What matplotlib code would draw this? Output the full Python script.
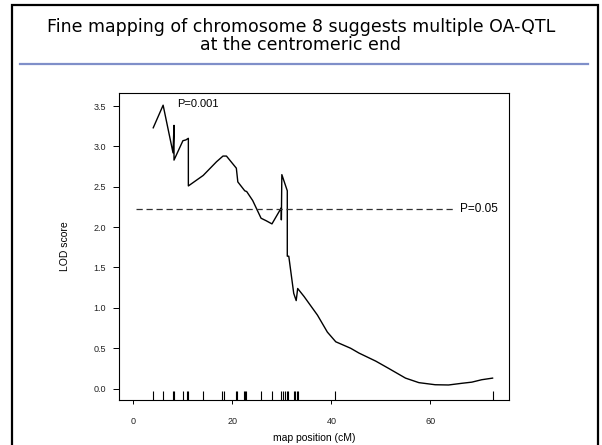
import matplotlib
matplotlib.use("Agg")
import matplotlib.pyplot as plt
from matplotlib.lines import Line2D
from matplotlib.patches import Rectangle
import matplotlib.transforms as mtransforms

# LOD profile along chromosome 8
pos_cm = [4.0, 6.0, 8.0, 8.2, 8.2, 10.0, 10.6, 11.1, 11.1, 14.1, 16.8, 18.1,
          18.8, 20.8, 21.1, 22.5, 22.9, 24.1, 25.8, 26.8, 28.0, 29.9, 29.9,
          30.0, 31.1, 31.1, 31.4, 32.4, 32.9, 33.2, 34.5, 37.2, 39.2, 40.9,
          43.9, 45.6, 49.0, 51.6, 55.0, 57.7, 61.0, 63.7, 66.4, 68.4, 70.4,
          72.6]
lod = [3.23, 3.51, 2.92, 3.26, 2.83, 3.07, 3.08, 3.10, 2.51, 2.64, 2.81, 2.88,
       2.88, 2.73, 2.56, 2.45, 2.44, 2.33, 2.11, 2.08, 2.04, 2.24, 2.09,
       2.65, 2.45, 1.64, 1.64, 1.18, 1.09, 1.24, 1.14, 0.91, 0.70, 0.58,
       0.50, 0.44, 0.34, 0.25, 0.13, 0.074, 0.048, 0.045, 0.066, 0.08, 0.11,
       0.13]

# marker positions (rug)
markers_cm = [4.0, 6.0, 7.9, 8.1, 10.0, 10.8, 11.1, 14.0, 18.0, 18.3, 20.8,
              21.0, 22.3, 22.6, 22.8, 25.8, 28.0, 29.9, 30.3, 30.7, 31.0,
              31.3, 32.4, 32.7, 33.1, 33.3, 40.8, 72.6]

threshold_05 = 2.23
threshold_05_span = [0.5, 65.0]
x_ticks = [0, 20, 40, 60]
y_ticks = [0.0, 0.5, 1.0, 1.5, 2.0, 2.5, 3.0, 3.5]

title = "Fine mapping of chromosome 8 suggests multiple OA-QTL\nat the centromeric end"

W, H = 602, 445
fig = plt.figure(figsize=(W / 100, H / 100), dpi=100)

# slide frame, header and rule
fig.add_artist(Rectangle((12 / W, -0.02), 586 / W, 1 - 5 / H + 0.02,
                         transform=fig.transFigure, fill=False,
                         edgecolor="black", linewidth=1.6))
fig.add_artist(Line2D([20 / W, 588 / W], [1 - 64 / H, 1 - 64 / H],
                      transform=fig.transFigure, color="#7f8fc9", linewidth=1.6))
fig.text(301 / W, 1 - 36 / H, title, ha="center", va="center",
         fontsize=12.5, family="DejaVu Sans", linespacing=1.0)

ax = fig.add_axes([119 / W, 1 - 400 / H, 390 / W, 307 / H])
ax.plot(pos_cm, lod, color="black", linewidth=1.0)
ax.plot(threshold_05_span, [threshold_05] * 2, color="#333333",
        linestyle=(0, (5, 3)), linewidth=0.9)

trans = mtransforms.blended_transform_factory(ax.transData, ax.transAxes)
ax.vlines(markers_cm, 0, 0.028, transform=trans, color="black", linewidth=0.8)

ax.set_xlim(-2.92, 75.92)
ax.set_ylim(-0.141, 3.661)
ax.set_xticks(x_ticks)
ax.set_yticks(y_ticks)
ax.set_yticklabels([f"{v:.1f}" for v in y_ticks])

for s in ax.spines.values():
    s.set_linewidth(0.8)
ax.tick_params(axis="x", direction="out", length=3, width=0.7, pad=9,
               labelsize=6.5)
ax.tick_params(axis="y", direction="out", length=4.5, width=0.7, pad=5,
               labelsize=6.5)
for lab in ax.get_xticklabels() + ax.get_yticklabels():
    lab.set_family("Liberation Sans")
    lab.set_color("#222222")

ax.set_xlabel("map position (cM)", fontsize=7.5, family="Liberation Sans",
              labelpad=5)
ax.set_ylabel("LOD score", fontsize=7.5, family="Liberation Sans",
              labelpad=17)

ax.text(8.8, 3.52, "P=0.001", fontsize=8, family="Liberation Sans",
        va="center", ha="left")
ax.text(66.0, threshold_05, "P=0.05", fontsize=8.5, family="Liberation Sans",
        va="center", ha="left")

fig.savefig("out.png", dpi=100)
